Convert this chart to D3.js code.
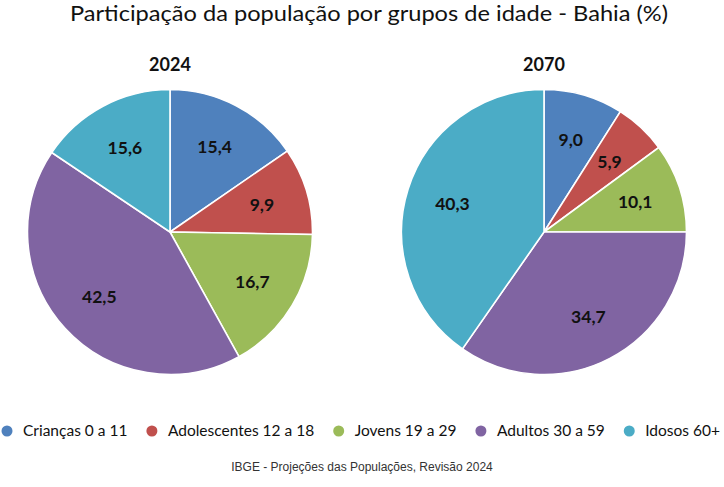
<!DOCTYPE html>
<html><head><meta charset="utf-8">
<script src="https://cdn.jsdelivr.net/npm/d3@7"></script>
<style>body{margin:0;background:#fff}svg{display:block}</style>
</head><body>
<svg id="chart" width="724" height="487"></svg>
<script>
const title = "Participação da população por grupos de idade - Bahia (%)";
const source = "IBGE - Projeções das Populações, Revisão 2024";
const categories = ["Crianças 0 a 11", "Adolescentes 12 a 18", "Jovens 19 a 29", "Adultos 30 a 59", "Idosos 60+"];
const years = ["2024", "2070"];
const values2024 = [15.4, 9.9, 16.7, 42.5, 15.6];
const values2070 = [9.0, 5.9, 10.1, 34.7, 40.3];
const colors = ["#4F81BD", "#C0504D", "#9BBB59", "#8064A2", "#4BACC6"];

const svg = d3.select("#chart");
const W = 724;
const fontMain = "Lato, 'Open Sans', 'DejaVu Sans', sans-serif";

svg.append("text").attr("x", W/2 + 7).attr("y", 21).attr("text-anchor", "middle")
  .attr("font-family", fontMain).attr("font-size", 21).attr("fill", "#111")
  .attr("textLength", 598).attr("lengthAdjust", "spacingAndGlyphs")
  .text(title);

const color = d3.scaleOrdinal().domain(categories).range(colors);
const pie = d3.pie().sort(null).value(d => d.v);
const R = 142.5;
const arc = d3.arc().innerRadius(0).outerRadius(R);
const labelArc = d3.arc().innerRadius(96).outerRadius(96);
const fmt = v => v.toFixed(1).replace(".", ",");

const centers = d3.scalePoint().domain(years).range([170, 544]);
const series = [values2024, values2070];

years.forEach((yr, i) => {
  const cx = centers(yr), cy = 232;
  const data = categories.map((c, j) => ({c, v: series[i][j]}));
  const g = svg.append("g").attr("transform", `translate(${cx},${cy})`);
  svg.append("text").attr("x", cx).attr("y", 71).attr("text-anchor", "middle")
    .attr("font-family", fontMain).attr("font-weight", "bold").attr("font-size", 18)
    .attr("fill", "#111").text(yr);
  const arcs = pie(data);
  g.selectAll("path").data(arcs).join("path")
    .attr("d", arc).attr("fill", d => color(d.data.c))
    .attr("stroke", "#fff").attr("stroke-width", 1.6);
  g.selectAll("text").data(arcs).join("text")
    .attr("transform", d => `translate(${labelArc.centroid(d)})`)
    .attr("text-anchor", "middle").attr("dy", "0.36em")
    .attr("font-family", fontMain).attr("font-weight", "bold").attr("font-size", 17.5)
    .attr("fill", "#111").text(d => fmt(d.data.v));
});

// legend
const lg = svg.append("g");
const items = lg.selectAll("g").data(categories).join("g");
items.append("circle").attr("r", 5.5).attr("cx", 0).attr("cy", 0).attr("fill", d => color(d));
items.append("text").attr("x", 16).attr("y", 0).attr("dy", "0.35em")
  .attr("font-family", fontMain).attr("font-size", 15.5).attr("fill", "#111").text(d => d);
// flow layout, spread to span the reference width (first dot at 7, last text ends at 721)
const widths = [];
items.each(function() { widths.push(d3.select(this).select("text").node().getComputedTextLength()); });
const totalText = d3.sum(widths) + 16 * widths.length;
const gap = (720 - 7 - totalText) / (widths.length - 1);
let x = 7;
items.each(function(d, i) {
  d3.select(this).attr("transform", `translate(${x},431)`);
  x += 16 + widths[i] + gap;
});

svg.append("text").attr("x", 362).attr("y", 471).attr("text-anchor", "middle")
  .attr("font-family", "'Liberation Sans', Arial, sans-serif").attr("font-size", 12)
  .attr("fill", "#333").text(source);
</script>
</body></html>
